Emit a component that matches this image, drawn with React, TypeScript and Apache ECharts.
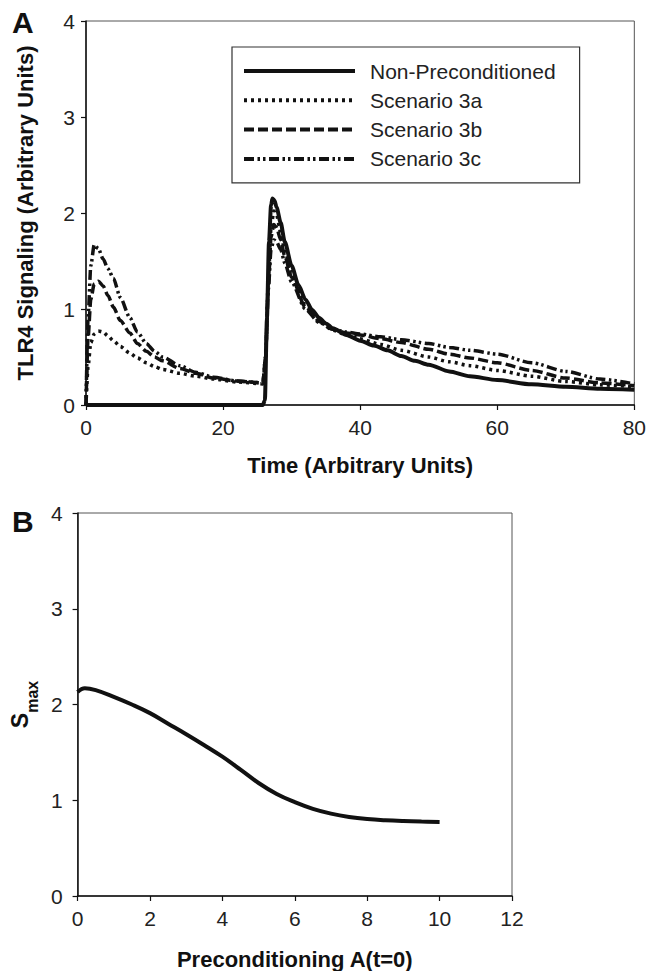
import React, { useEffect, useRef } from "react";
import * as echarts from "echarts";

// ---------- Panel A data ----------
const seriesNames = ["Non-Preconditioned", "Scenario 3a", "Scenario 3b", "Scenario 3c"];

const timeNP = [0, 25.8, 26.1, 26.4, 26.7, 27.0, 27.2, 27.5, 27.8, 28.4, 29, 30, 31, 32, 33, 34, 35, 36, 38, 40, 42, 44, 46, 48, 50, 53, 56, 60, 65, 70, 75, 80];
const valsNP = [0, 0, 0.05, 0.9, 1.7, 2.08, 2.15, 2.13, 2.06, 1.9, 1.7, 1.45, 1.25, 1.1, 0.99, 0.91, 0.85, 0.8, 0.73, 0.67, 0.62, 0.57, 0.51, 0.46, 0.42, 0.35, 0.3, 0.26, 0.215, 0.19, 0.17, 0.16];

const time3 = [0, 0.3, 0.7, 1.2, 1.8, 2.5, 3.2, 4, 5, 6.4, 7.5, 8.8, 10, 11.2, 13.7, 16, 18.6, 22, 25.8, 26.2, 26.6, 27.0, 27.4, 27.8, 28.4, 29, 30, 32, 34, 36, 38, 40, 43, 46, 50, 53, 56, 60, 65, 70, 75, 80];
const vals3a = [0, 0.4, 0.65, 0.74, 0.77, 0.76, 0.72, 0.67, 0.61, 0.54, 0.49, 0.44, 0.4, 0.37, 0.33, 0.3, 0.27, 0.24, 0.22, 0.5, 1.3, 1.85, 2.02, 1.98, 1.8, 1.6, 1.38, 1.05, 0.88, 0.78, 0.73, 0.69, 0.63, 0.57, 0.5, 0.45, 0.41, 0.36, 0.3, 0.245, 0.21, 0.19];
const vals3b = [0, 0.7, 1.1, 1.26, 1.29, 1.24, 1.14, 1.02, 0.88, 0.75, 0.64, 0.56, 0.5, 0.46, 0.38, 0.33, 0.28, 0.25, 0.23, 0.5, 1.25, 1.75, 1.88, 1.85, 1.72, 1.55, 1.33, 1.02, 0.87, 0.79, 0.75, 0.73, 0.69, 0.65, 0.58, 0.53, 0.49, 0.44, 0.36, 0.28, 0.23, 0.2];
const vals3c = [0, 0.9, 1.45, 1.67, 1.63, 1.52, 1.42, 1.32, 1.12, 0.91, 0.76, 0.64, 0.56, 0.5, 0.41, 0.34, 0.29, 0.25, 0.23, 0.5, 1.2, 1.62, 1.72, 1.7, 1.62, 1.48, 1.28, 1.0, 0.86, 0.79, 0.76, 0.74, 0.71, 0.68, 0.64, 0.6, 0.57, 0.53, 0.44, 0.35, 0.27, 0.22];

// ---------- Panel B data ----------
const precond = [0, 0.2, 0.5, 1, 1.5, 2, 2.5, 3, 3.5, 4, 4.5, 5, 5.5, 6, 6.5, 7, 7.5, 8, 8.5, 9, 9.5, 10];
const smax = [2.13, 2.17, 2.15, 2.08, 2.0, 1.91, 1.8, 1.69, 1.575, 1.455, 1.32, 1.18, 1.065, 0.98, 0.91, 0.86, 0.825, 0.803, 0.79, 0.782, 0.777, 0.774];

const ticksA_x = { min: 0, max: 80, interval: 20 };
const ticksA_y = { min: 0, max: 4, interval: 1 };
const ticksB_x = { min: 0, max: 12, interval: 2 };
const ticksB_y = { min: 0, max: 4, interval: 1 };

const FONT = "'Liberation Sans', Arial, Helvetica, sans-serif";
const INK = "#111";
const TXT = "#222";

const zip = (xs: number[], ys: number[]) => xs.map((x, i) => [x, ys[i]]);

function axisCommon(labelMargin: number) {
  return {
    type: "value" as const,
    axisLine: { show: true, lineStyle: { color: INK, width: 1.5 } },
    axisTick: { show: true, inside: false, length: 5, lineStyle: { color: INK, width: 1.2 } },
    axisLabel: { color: TXT, fontSize: 21, fontFamily: FONT, margin: labelMargin },
    splitLine: { show: false },
    nameLocation: "middle" as const,
    nameTextStyle: { color: INK, fontSize: 22, fontWeight: "bold" as const, fontFamily: FONT },
  };
}

export default function App() {
  const ref = useRef<HTMLDivElement>(null);
  useEffect(() => {
    if (!ref.current) return;
    const chart = echarts.init(ref.current, null, { renderer: "svg" });
    const dashStyles: any[] = ["solid", [3, 4], [10, 4], [10, 3.5, 2.5, 3, 2.5, 3.5]];
    const widths = [4, 3.5, 3.5, 3.5];
    const valsList = [valsNP, vals3a, vals3b, vals3c];
    const timesList = [timeNP, time3, time3, time3];
    chart.setOption({
      animation: false,
      backgroundColor: "#fff",
      textStyle: { fontFamily: FONT },
      grid: [
        { left: 86, top: 21, width: 549, height: 384, show: true, borderColor: "#555", borderWidth: 1, backgroundColor: "transparent" },
        { left: 70, top: 513, width: 442, height: 384, show: true, borderColor: "#555", borderWidth: 1, backgroundColor: "transparent" },
      ],
      legend: {
        orient: "vertical",
        left: 232,
        top: 47,
        data: seriesNames,
        itemWidth: 111,
        itemHeight: 21,
        itemGap: 8.3,
        padding: [13.5, 24, 13.5, 10],
        borderColor: "#333",
        borderWidth: 1.2,
        borderRadius: 0,
        itemStyle: { opacity: 0 },
        lineStyle: { width: 4 },
        textStyle: { color: TXT, fontSize: 21, fontFamily: FONT, padding: [0, 0, 0, 10] },
        selectedMode: false,
      },
      xAxis: [
        { ...axisCommon(12), gridIndex: 0, ...ticksA_x, name: "Time (Arbitrary Units)", nameGap: 49 },
        { ...axisCommon(12), gridIndex: 1, ...ticksB_x, name: "Preconditioning A(t=0)", nameGap: 52 },
      ],
      yAxis: [
        { ...axisCommon(11), gridIndex: 0, ...ticksA_y, name: "TLR4 Signaling (Arbitrary Units)", nameGap: 50 },
        {
          ...axisCommon(15), gridIndex: 1, ...ticksB_y,
          name: "{s|S}{m|max}", nameGap: 36,
          nameTextStyle: {
            color: INK, fontFamily: FONT,
            rich: {
              s: { fontSize: 23, fontWeight: "bold", lineHeight: 32, verticalAlign: "top", fontFamily: FONT, color: INK },
              m: { fontSize: 16, fontWeight: "bold", lineHeight: 32, verticalAlign: "bottom", fontFamily: FONT, color: INK },
            },
          },
        },
      ],
      series: [
        ...seriesNames.map((name, i) => ({
          name,
          type: "line",
          xAxisIndex: 0,
          yAxisIndex: 0,
          data: zip(timesList[i], valsList[i]),
          showSymbol: false,
          symbol: "none",
          smooth: 0.25,
          smoothMonotone: "x",
          color: INK,
          lineStyle: { color: INK, width: widths[i], type: dashStyles[i], cap: "butt" },
          z: 10 - i,
        })),
        {
          name: "Smax",
          type: "line",
          xAxisIndex: 1,
          yAxisIndex: 1,
          data: zip(precond, smax),
          showSymbol: false,
          symbol: "none",
          smooth: 0.4,
          color: INK,
          lineStyle: { color: INK, width: 4 },
        },
      ],
      graphic: [
        { type: "text", left: 12, top: 7, style: { text: "A", fontSize: 30, fontWeight: "bold", fontFamily: FONT, fill: INK } },
        { type: "text", left: 12, top: 506, style: { text: "B", fontSize: 30, fontWeight: "bold", fontFamily: FONT, fill: INK } },
      ],
    });
    return () => chart.dispose();
  }, []);
  return <div ref={ref} style={{ position: "fixed", left: 0, top: 0, width: 649, height: 971, background: "#fff" }} />;
}
